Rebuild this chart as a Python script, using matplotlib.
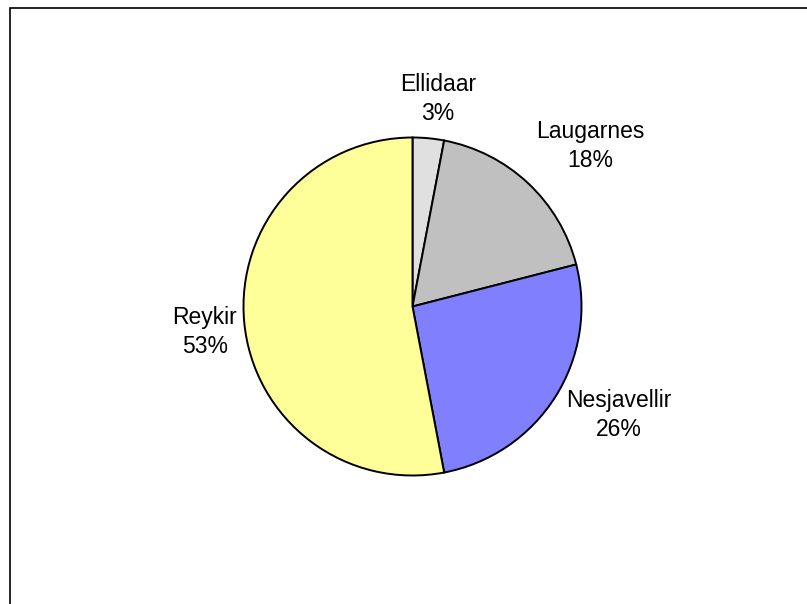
import matplotlib
matplotlib.use("Agg")
import matplotlib.pyplot as plt
from matplotlib.patches import Rectangle

categories = ["Ellidaar", "Laugarnes", "Nesjavellir", "Reykir"]
values = [3, 18, 26, 53]
colors = ["#E0E0E0", "#C0C0C0", "#8080FF", "#FFFF99"]

plt.rcParams['font.family'] = ['Liberation Sans', 'DejaVu Sans']

W, H = 807, 604
fig = plt.figure(figsize=(W / 100, H / 100), dpi=100)
cx, cy, r = 412.5, 306.5, 169
ax = fig.add_axes([(cx - r) / W, (H - cy - r) / H, 2 * r / W, 2 * r / H])

wedges, _ = ax.pie(values, colors=colors, startangle=90, counterclock=False,
                   wedgeprops=dict(edgecolor='black', linewidth=1.4))
ax.set_xlim(-1, 1)
ax.set_ylim(-1, 1)
ax.set_aspect('equal')
ax.axis('off')

label_pos = [(0.151, 1.228), (1.05, 0.95), (1.222, -0.642), (-1.228, -0.151)]
for name, v, (x, y) in zip(categories, values, label_pos):
    ax.text(x, y, f"{name}\n{v}%", ha='center', va='center', fontsize=16.5,
            linespacing=1.33, clip_on=False)

fig.patches.append(Rectangle((9.5 / W, -0.1), 1.2, 1 - 7.5 / H + 0.1,
                             transform=fig.transFigure, fill=False,
                             edgecolor='black', linewidth=1.2))

fig.savefig("out.png", dpi=100)
